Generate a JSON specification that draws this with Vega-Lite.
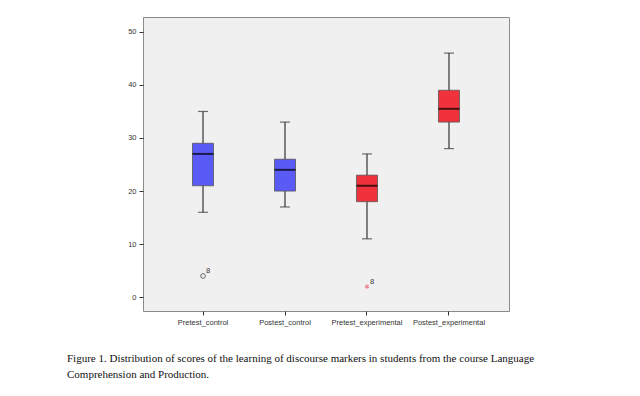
{
  "$schema": "https://vega.github.io/schema/vega-lite/v6.json",
  "width": 366,
  "height": 294,
  "autosize": {"type": "none"},
  "padding": {"left": 143, "top": 17, "right": 131, "bottom": 85},
  "background": "white",
  "config": {
    "view": {"fill": "#f0f0f0", "stroke": "#8a8a8a", "strokeWidth": 1},
    "axis": {"grid": false, "domain": false, "labelFont": "Liberation Sans", "labelFontSize": 7.5, "labelColor": "#333333", "tickColor": "#333333", "tickSize": 4, "labelPadding": 3}
  },
  "title": {
    "text": ["Figure 1. Distribution of scores of the learning of discourse markers in students from the course Language", "Comprehension and Production."],
    "orient": "bottom",
    "anchor": "start",
    "frame": "group",
    "dx": -76,
    "offset": 27,
    "font": "Liberation Serif",
    "fontSize": 11,
    "fontWeight": "normal",
    "color": "#111111",
    "lineHeight": 16.5
  },
  "datasets": {
    "boxes": [
      {"group": "Pretest_control", "type": "control", "lower": 16, "q1": 21, "median": 27, "q3": 29, "upper": 35},
      {"group": "Postest_control", "type": "control", "lower": 17, "q1": 20, "median": 24, "q3": 26, "upper": 33},
      {"group": "Pretest_experimental", "type": "experimental", "lower": 11, "q1": 18, "median": 21, "q3": 23, "upper": 27},
      {"group": "Postest_experimental", "type": "experimental", "lower": 28, "q1": 33, "median": 35.5, "q3": 39, "upper": 46}
    ],
    "outliers": [
      {"group": "Pretest_control", "value": 4, "case": "8", "kind": "outlier"},
      {"group": "Pretest_experimental", "value": 2, "case": "8", "kind": "extreme"}
    ]
  },
  "encoding": {
    "x": {
      "field": "group", "type": "nominal",
      "sort": ["Pretest_control", "Postest_control", "Pretest_experimental", "Postest_experimental"],
      "scale": {"paddingInner": 0, "paddingOuter": 0.232},
      "axis": {"title": null, "labelAngle": 0}
    }
  },
  "layer": [
    {
      "data": {"name": "boxes"},
      "mark": {"type": "rule", "color": "#333333", "strokeWidth": 1.2},
      "encoding": {
        "y": {"field": "lower", "type": "quantitative", "scale": {"domain": [-2.6, 52.8], "nice": false, "zero": false}, "axis": {"title": null, "values": [0, 10, 20, 30, 40, 50]}},
        "y2": {"field": "upper"}
      }
    },
    {
      "data": {"name": "boxes"},
      "mark": {"type": "tick", "color": "#333333", "size": 10, "thickness": 1.2, "orient": "horizontal"},
      "encoding": {"y": {"field": "lower", "type": "quantitative"}}
    },
    {
      "data": {"name": "boxes"},
      "mark": {"type": "tick", "color": "#333333", "size": 10, "thickness": 1.2, "orient": "horizontal"},
      "encoding": {"y": {"field": "upper", "type": "quantitative"}}
    },
    {
      "data": {"name": "boxes"},
      "mark": {"type": "bar", "size": 21, "stroke": "#555555", "strokeWidth": 0.8},
      "encoding": {
        "y": {"field": "q1", "type": "quantitative"},
        "y2": {"field": "q3"},
        "color": {"field": "type", "type": "nominal", "scale": {"domain": ["control", "experimental"], "range": ["#5a5af6", "#f0323c"]}, "legend": null}
      }
    },
    {
      "data": {"name": "boxes"},
      "mark": {"type": "tick", "color": "#000000", "size": 21, "thickness": 2, "orient": "horizontal"},
      "encoding": {"y": {"field": "median", "type": "quantitative"}}
    },
    {
      "data": {"name": "outliers"},
      "transform": [{"filter": "datum.kind === 'outlier'"}],
      "mark": {"type": "point", "shape": "circle", "filled": false, "size": 22, "stroke": "#333333", "strokeWidth": 1},
      "encoding": {"y": {"field": "value", "type": "quantitative"}}
    },
    {
      "data": {"name": "outliers"},
      "transform": [{"filter": "datum.kind === 'extreme'"}],
      "mark": {"type": "point", "shape": "M0,-1L0,1M-0.87,-0.5L0.87,0.5M-0.87,0.5L0.87,-0.5", "filled": false, "size": 20, "stroke": "#e8404a", "strokeWidth": 1},
      "encoding": {"y": {"field": "value", "type": "quantitative"}}
    },
    {
      "data": {"name": "outliers"},
      "mark": {"type": "text", "font": "Liberation Sans", "fontSize": 7.5, "color": "#333333", "dx": 5, "dy": -5, "align": "center"},
      "encoding": {"y": {"field": "value", "type": "quantitative"}, "text": {"field": "case"}}
    }
  ]
}
